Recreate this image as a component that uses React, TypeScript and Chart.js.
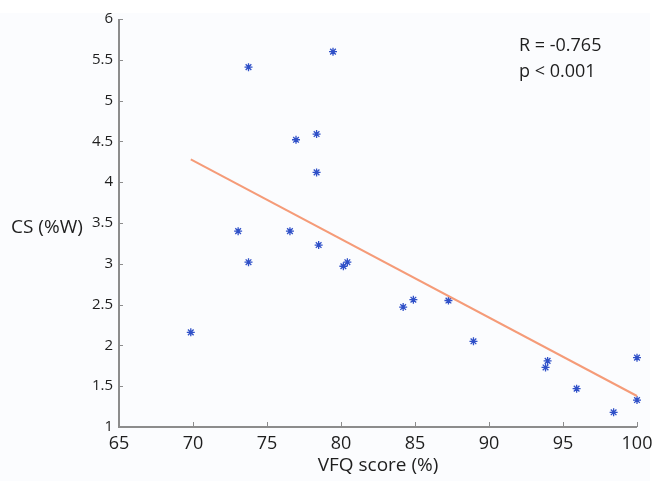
import React, { useEffect, useRef } from "react";
import { Chart, registerables } from "chart.js";

Chart.register(...registerables);

const vfqScores = [73.75, 79.46, 76.96, 78.35, 78.35, 73.05, 76.55, 73.75, 78.49, 80.16, 80.43, 69.85, 84.2, 84.89, 87.26, 88.95, 93.96, 93.82, 95.92, 98.42, 100, 100];
const csValues = [5.41, 5.6, 4.52, 4.59, 4.12, 3.4, 3.4, 3.02, 3.23, 2.97, 3.02, 2.16, 2.47, 2.56, 2.55, 2.05, 1.81, 1.73, 1.47, 1.18, 1.85, 1.33];
const fitX = [69.85, 100];
const fitY = [4.28, 1.38];
const xTicks = [65, 70, 75, 80, 85, 90, 95, 100];
const yTicks = [1, 1.5, 2, 2.5, 3, 3.5, 4, 4.5, 5, 5.5, 6];
const xTitle = "VFQ score (%)";
const yTitle = "CS (%W)";
const statLines = ["R = -0.765", "p < 0.001"];

const FONT = "'Open Sans', 'Noto Sans', sans-serif";

const decorPlugin = {
  id: "decor",
  beforeDraw(chart: any) {
    const { ctx, width, height } = chart;
    ctx.save();
    ctx.fillStyle = "#ffffff";
    ctx.fillRect(0, 0, width, height);
    ctx.fillStyle = "#fbfcfe";
    ctx.fillRect(0, 13, 650, height - 13);
    ctx.restore();
  },
  afterDraw(chart: any) {
    const { ctx, chartArea } = chart;
    const xs = chart.scales.x;
    const ys = chart.scales.y;
    ctx.save();
    ctx.strokeStyle = "#8c8c8c";
    ctx.lineWidth = 2;
    ctx.beginPath();
    ctx.moveTo(chartArea.left, chartArea.top);
    ctx.lineTo(chartArea.left, chartArea.bottom);
    ctx.lineTo(chartArea.right, chartArea.bottom);
    ctx.stroke();
    ctx.lineWidth = 1;
    ctx.beginPath();
    xTicks.forEach((v) => {
      const px = Math.round(xs.getPixelForValue(v)) + 0.5;
      ctx.moveTo(px, chartArea.bottom);
      ctx.lineTo(px, chartArea.bottom - 5);
    });
    yTicks.forEach((v) => {
      const py = Math.round(ys.getPixelForValue(v)) + 0.5;
      ctx.moveTo(chartArea.left, py);
      ctx.lineTo(chartArea.left + 4, py);
    });
    ctx.stroke();
    ctx.fillStyle = "#1e1e1e";
    ctx.font = `19px ${FONT}`;
    ctx.textAlign = "center";
    ctx.textBaseline = "middle";
    ctx.fillText(xTitle, (chartArea.left + chartArea.right) / 2, 466);
    ctx.textAlign = "left";
    ctx.fillText(yTitle, 11, 228);
    ctx.font = `18px ${FONT}`;
    ctx.textBaseline = "alphabetic";
    ctx.fillText(statLines[0], 519, 51);
    ctx.fillText(statLines[1], 519, 77);
    ctx.restore();
  },
};

export default function App() {
  const ref = useRef<HTMLCanvasElement>(null);
  useEffect(() => {
    document.body.style.margin = "0";
    const canvas = ref.current!;
    const chart = new Chart(canvas, {
      type: "scatter",
      data: {
        datasets: [
          {
            type: "line",
            data: fitX.map((x, i) => ({ x, y: fitY[i] })),
            borderColor: "#f59b78",
            borderWidth: 2,
            pointRadius: 0,
            fill: false,
            clip: false,
          } as any,
          {
            data: vfqScores.map((x, i) => ({ x, y: csValues[i] })),
            pointStyle: "star",
            pointRadius: 4,
            borderColor: "#2f50c8",
            backgroundColor: "#2f50c8",
            borderWidth: 1.3,
            clip: false,
          } as any,
        ],
      },
      plugins: [decorPlugin],
      options: {
        responsive: false,
        animation: false,
        layout: { padding: { left: 0, top: 19, right: 25, bottom: 0 } },
        plugins: { legend: { display: false }, tooltip: { enabled: false } },
        scales: {
          x: {
            type: "linear",
            min: 65,
            max: 100,
            afterBuildTicks: (s: any) => {
              s.ticks = xTicks.map((v) => ({ value: v }));
            },
            afterFit: (s: any) => {
              s.height = 54;
            },
            border: { display: false },
            grid: { display: false, drawTicks: false },
            ticks: {
              padding: 6,
              color: "#1e1e1e",
              font: { family: FONT, size: 18 },
              maxRotation: 0,
              callback: (v: any) => String(v),
            },
          },
          y: {
            type: "linear",
            min: 1,
            max: 6,
            afterBuildTicks: (s: any) => {
              s.ticks = yTicks.map((v) => ({ value: v }));
            },
            afterFit: (s: any) => {
              s.width = 119;
            },
            border: { display: false },
            grid: { display: false, drawTicks: false },
            ticks: {
              padding: 6,
              color: "#1e1e1e",
              font: { family: FONT, size: 15 },
              callback: (v: any) => String(v),
            },
          },
        },
      },
    });
    return () => chart.destroy();
  }, []);
  return <canvas ref={ref} width={662} height={481} style={{ display: "block" }} />;
}
